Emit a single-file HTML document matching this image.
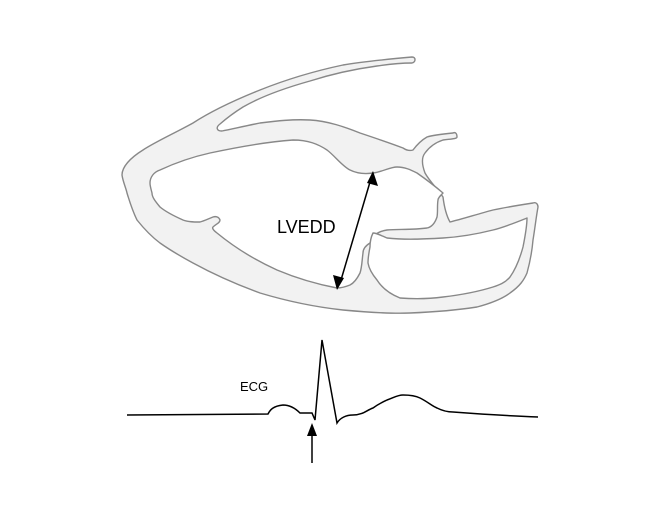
<!DOCTYPE html>
<html><head><style>
html,body{margin:0;padding:0;background:#fff;width:663px;height:518px;overflow:hidden}
svg{display:block}
</style></head><body>
<svg width="663" height="518" viewBox="0 0 663 518" xmlns="http://www.w3.org/2000/svg">
<g fill="#f2f2f2" stroke="#888" stroke-width="1.4" stroke-linejoin="round">
<path d="M412,57 C390,59 360,62 343,65 C310,72 285,80 260,90 C235,100 210,112 193,123 C175,133 155,142 143,150 C130,158 122,167 122,175 C123,182 126,188 127,193 C130,203 133,212 137,220 C145,230 152,237 160,243 C170,250 180,256 193,263 C215,275 238,285 260,293 C290,302 315,307 343,310 C365,312 390,314 410,313 C435,312 458,310 477,307 C492,303 502,299 510,293 C520,286 524,280 527,273 C530,262 532,252 533,240 C535,228 536,218 538,207 C538,204 536,202 533,203 C520,205 507,207 493,210 C478,214 462,219 450,222 C446,215 444,205 443,197 C437,188 430,182 425,173 C422,165 421,158 425,153 C430,146 437,142 443,140 C450,139 457,139 457,137 C457,133 455,132 453,133 C443,134 433,135 427,137 C420,141 416,146 413,150 C410,151 406,150 403,148 C390,143 375,138 360,133 C345,127 328,121 310,120 C293,119 276,121 260,123 C245,126 232,129 222,131 C216,131 216,127 220,124 C228,117 235,112 243,107 C262,96 285,88 310,81 C332,74 355,69 377,66 C390,64 405,63 412,63 C416,62 416,57 412,57 Z"/>
</g>
<g fill="#fff" stroke="#888" stroke-width="1.4" stroke-linejoin="round">
<path d="M150,183 C150,177 154,172 160,170 C175,163 192,157 210,153 C238,147 265,142 293,140 C308,140 318,144 327,150 C335,156 342,166 350,170 C358,174 366,174 373,173 C382,172 390,167 397,167 C405,167 411,170 417,173 C427,180 436,187 443,193 C440,196 438,198 438,200 C437,206 438,212 437,217 C435,223 432,227 427,228 C412,230 398,229 387,230 C380,231 375,234 373,237 C371,240 371,242 370,243 C365,246 363,249 363,253 C362,260 362,267 360,273 C357,279 354,283 350,285 C345,287 341,288 337,288 C316,284 296,278 277,270 C255,260 234,247 217,233 C213,230 212,228 213,227 C216,224 220,223 220,220 C219,217 216,216 213,217 C208,219 204,221 200,222 C194,222 188,222 183,220 C174,216 166,212 160,207 C155,201 152,197 152,193 C151,189 150,186 150,183 Z"/>
<path d="M370,247 C370,241 371,237 373,233 C377,233 382,236 387,238 C405,240 425,239 443,238 C460,237 477,234 493,230 C505,227 517,222 527,218 C527,227 525,237 523,247 C520,258 515,270 510,277 C505,283 499,285 493,287 C477,292 460,295 443,297 C428,299 413,299 400,298 C390,294 382,288 377,280 C372,274 369,269 368,263 C368,257 369,252 370,247 Z"/>
</g>
<line x1="370" y1="182" x2="341" y2="280" stroke="#000" stroke-width="1.5"/>
<path d="M373,171 L378,186 L367,183 Z" fill="#000"/>
<path d="M337,290 L333,275 L344,278 Z" fill="#000"/>
<text x="277" y="233" font-family="'Liberation Sans',sans-serif" font-size="18" fill="#000">LVEDD</text>
<path d="M127,415 L268,414 C270,410 273,406 283,405 C290,405 295,408 300,413 L312,413 L315,420 L322,340 L337,423 C340,418 346,415 353,415 C358,415 360,414 363,413 C367,411 370,409 373,408 C380,403 385,401 387,400 C395,397 398,395 403,395 C410,395 416,396 420,398 C428,402 432,406 437,408 C443,411 448,412 453,412 C480,414 510,416 538,417" fill="none" stroke="#000" stroke-width="1.5" stroke-linejoin="miter"/>
<text x="240" y="391" font-family="'Liberation Sans',sans-serif" font-size="13" fill="#000">ECG</text>
<line x1="312" y1="463" x2="312" y2="432" stroke="#000" stroke-width="1.5"/>
<path d="M312,423 L317,436 L307,436 Z" fill="#000"/>
</svg>
</body></html>
